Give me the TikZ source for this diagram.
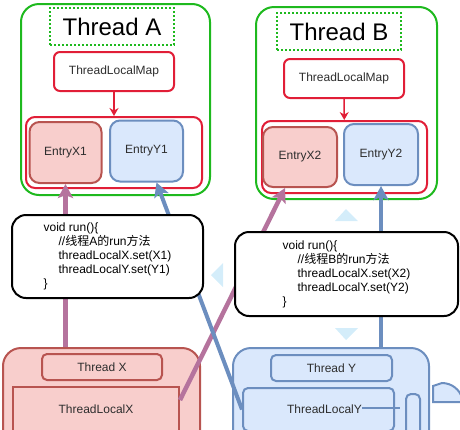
\documentclass[tikz,border=0pt]{standalone}
\usepackage{fontspec}
\setmainfont{Liberation Sans}
\newfontfamily\cjk{Noto Sans CJK SC}
\usetikzlibrary{arrows.meta}
\definecolor{tgreen}{RGB}{30,185,30}
\definecolor{tred}{RGB}{225,30,55}
\definecolor{xpink}{HTML}{F8CECC}
\definecolor{xbrown}{HTML}{B85450}
\definecolor{yblue}{HTML}{DAE8FC}
\definecolor{yborder}{HTML}{6C8EBF}
\definecolor{xpurple}{HTML}{B5739D}
\definecolor{handle}{RGB}{212,237,250}
\definecolor{txt}{RGB}{45,45,45}
\tikzset{
  box/.style={inner sep=0pt, line width=2pt, text=txt, font=\fontsize{12}{14}\selectfont},
  threadbox/.style={box, draw=tgreen, rounded corners=18pt},
  titlebox/.style={box, draw=tgreen, dotted, text=black, font=\fontsize{24}{28}\selectfont},
  mapbox/.style={box, draw=tred, rounded corners=6pt},
  holder/.style={box, draw=tred, rounded corners=9pt},
  xentry/.style={box, draw=xbrown, fill=xpink, rounded corners=10pt},
  yentry/.style={box, draw=yborder, fill=yblue, rounded corners=10pt},
  codebox/.style={box, draw=black, fill=white, rounded corners=14pt, text=black, align=left},
  maparrow/.style={draw=tred, line width=1.5pt, -{Stealth[length=8pt,width=9pt]}},
  parrow/.style={draw=xpurple, line width=4.5pt, -{Stealth[length=14pt,width=15pt,inset=3pt]}},
  barrow/.style={draw=yborder, line width=4pt, -{Stealth[length=14pt,width=15pt,inset=3pt]}}
}
\newcommand{\ind}{\hspace*{15pt}}
\begin{document}
\begin{tikzpicture}[x=1pt,y=-1pt]
\useasboundingbox (0,0) rectangle (460,429);
\clip (0,0) rectangle (460,429);

\node[threadbox, minimum width=189, minimum height=191] (ta) at (115.5,99.5) {};
\node[titlebox, minimum width=124, minimum height=37] (tat) at (112,26.5) {Thread A};
\node[mapbox, minimum width=120, minimum height=39] (mapa) at (114,71.5) {ThreadLocalMap};
\node[holder, minimum width=176, minimum height=71] (holda) at (114,152.5) {};
\node[xentry, minimum width=72, minimum height=61] (ex1) at (65.5,152.5) {EntryX1};
\node[yentry, minimum width=73, minimum height=61] (ey1) at (146.5,151) {EntryY1};
\draw[maparrow] (mapa) -- (holda);

\node[threadbox, minimum width=181, minimum height=192] (tb) at (346.5,103) {};
\node[titlebox, minimum width=124, minimum height=37] (tbt) at (339,31.5) {Thread B};
\node[mapbox, minimum width=120, minimum height=39] (mapb) at (344,78.5) {ThreadLocalMap};
\node[holder, minimum width=165, minimum height=72] (holdb) at (344.5,157) {};
\node[xentry, minimum width=74, minimum height=60] (ex2) at (300,157) {EntryX2};
\node[yentry, minimum width=74, minimum height=61] (ey2) at (381,154.5) {EntryY2};
\draw[maparrow] (mapb) -- (holdb);

\node[xentry, rounded corners=18pt, minimum width=197, minimum height=104] (tx) at (101.5,400) {};
\node[xentry, rounded corners=5pt, minimum width=120, minimum height=26] (txl) at (102,367) {Thread X};
\node[xentry, rounded corners=0pt, minimum width=166, minimum height=44] (tlx) at (96,409) {ThreadLocalX};

\draw[yborder, fill=yblue, line width=2pt] (433,402) -- (433,386) -- (442,383) .. controls (452,383) and (460,390) .. (462,398) -- (462,402) -- cycle;
\node[yentry, rounded corners=18pt, minimum width=196, minimum height=104] (ty) at (331,400) {};
\node[yentry, rounded corners=5pt, minimum width=121, minimum height=26] (tyl) at (331.5,368) {Thread Y};
\node[yentry, rounded corners=5pt, minimum width=151, minimum height=43] (tly) at (318.5,409.5) {\hspace*{12pt}ThreadLocalY};
\draw[yborder, line width=2pt, rounded corners=5pt] (406,431) -- (406,394) -- (420,394) -- (420,431);
\draw[yborder, line width=2pt] (362,408) -- (400,408);

\draw[parrow] (tx.north -| ex1) -- (ex1.south);
\draw[parrow] ([yshift=9pt]tlx.east) -- ([xshift=-15pt]ex2.south);
\draw[barrow] (tly.west) -- ([xshift=10pt]ey1.south);
\draw[barrow] (ty.north -| ey2) -- (ey2.south);

\fill[handle] (211,275) -- (223,263) -- (223,287) -- cycle;
\fill[handle] (346,209) -- (335,221) -- (358,221) -- cycle;
\fill[handle] (346,340) -- (335,328) -- (358,328) -- cycle;

\node[codebox, minimum width=191, minimum height=83] (coda) at (107.5,256.5) {void run()\{\\
\ind//{\cjk 线程}A{\cjk 的}run{\cjk 方法}\\
\ind threadLocalX.set(X1)\\
\ind threadLocalY.set(Y1)\\
\}};
\node[codebox, minimum width=223, minimum height=84] (codb) at (346.5,274) {void run()\{\\
\ind//{\cjk 线程}B{\cjk 的}run{\cjk 方法}\\
\ind threadLocalX.set(X2)\\
\ind threadLocalY.set(Y2)\\
\}};
\end{tikzpicture}
\end{document}
